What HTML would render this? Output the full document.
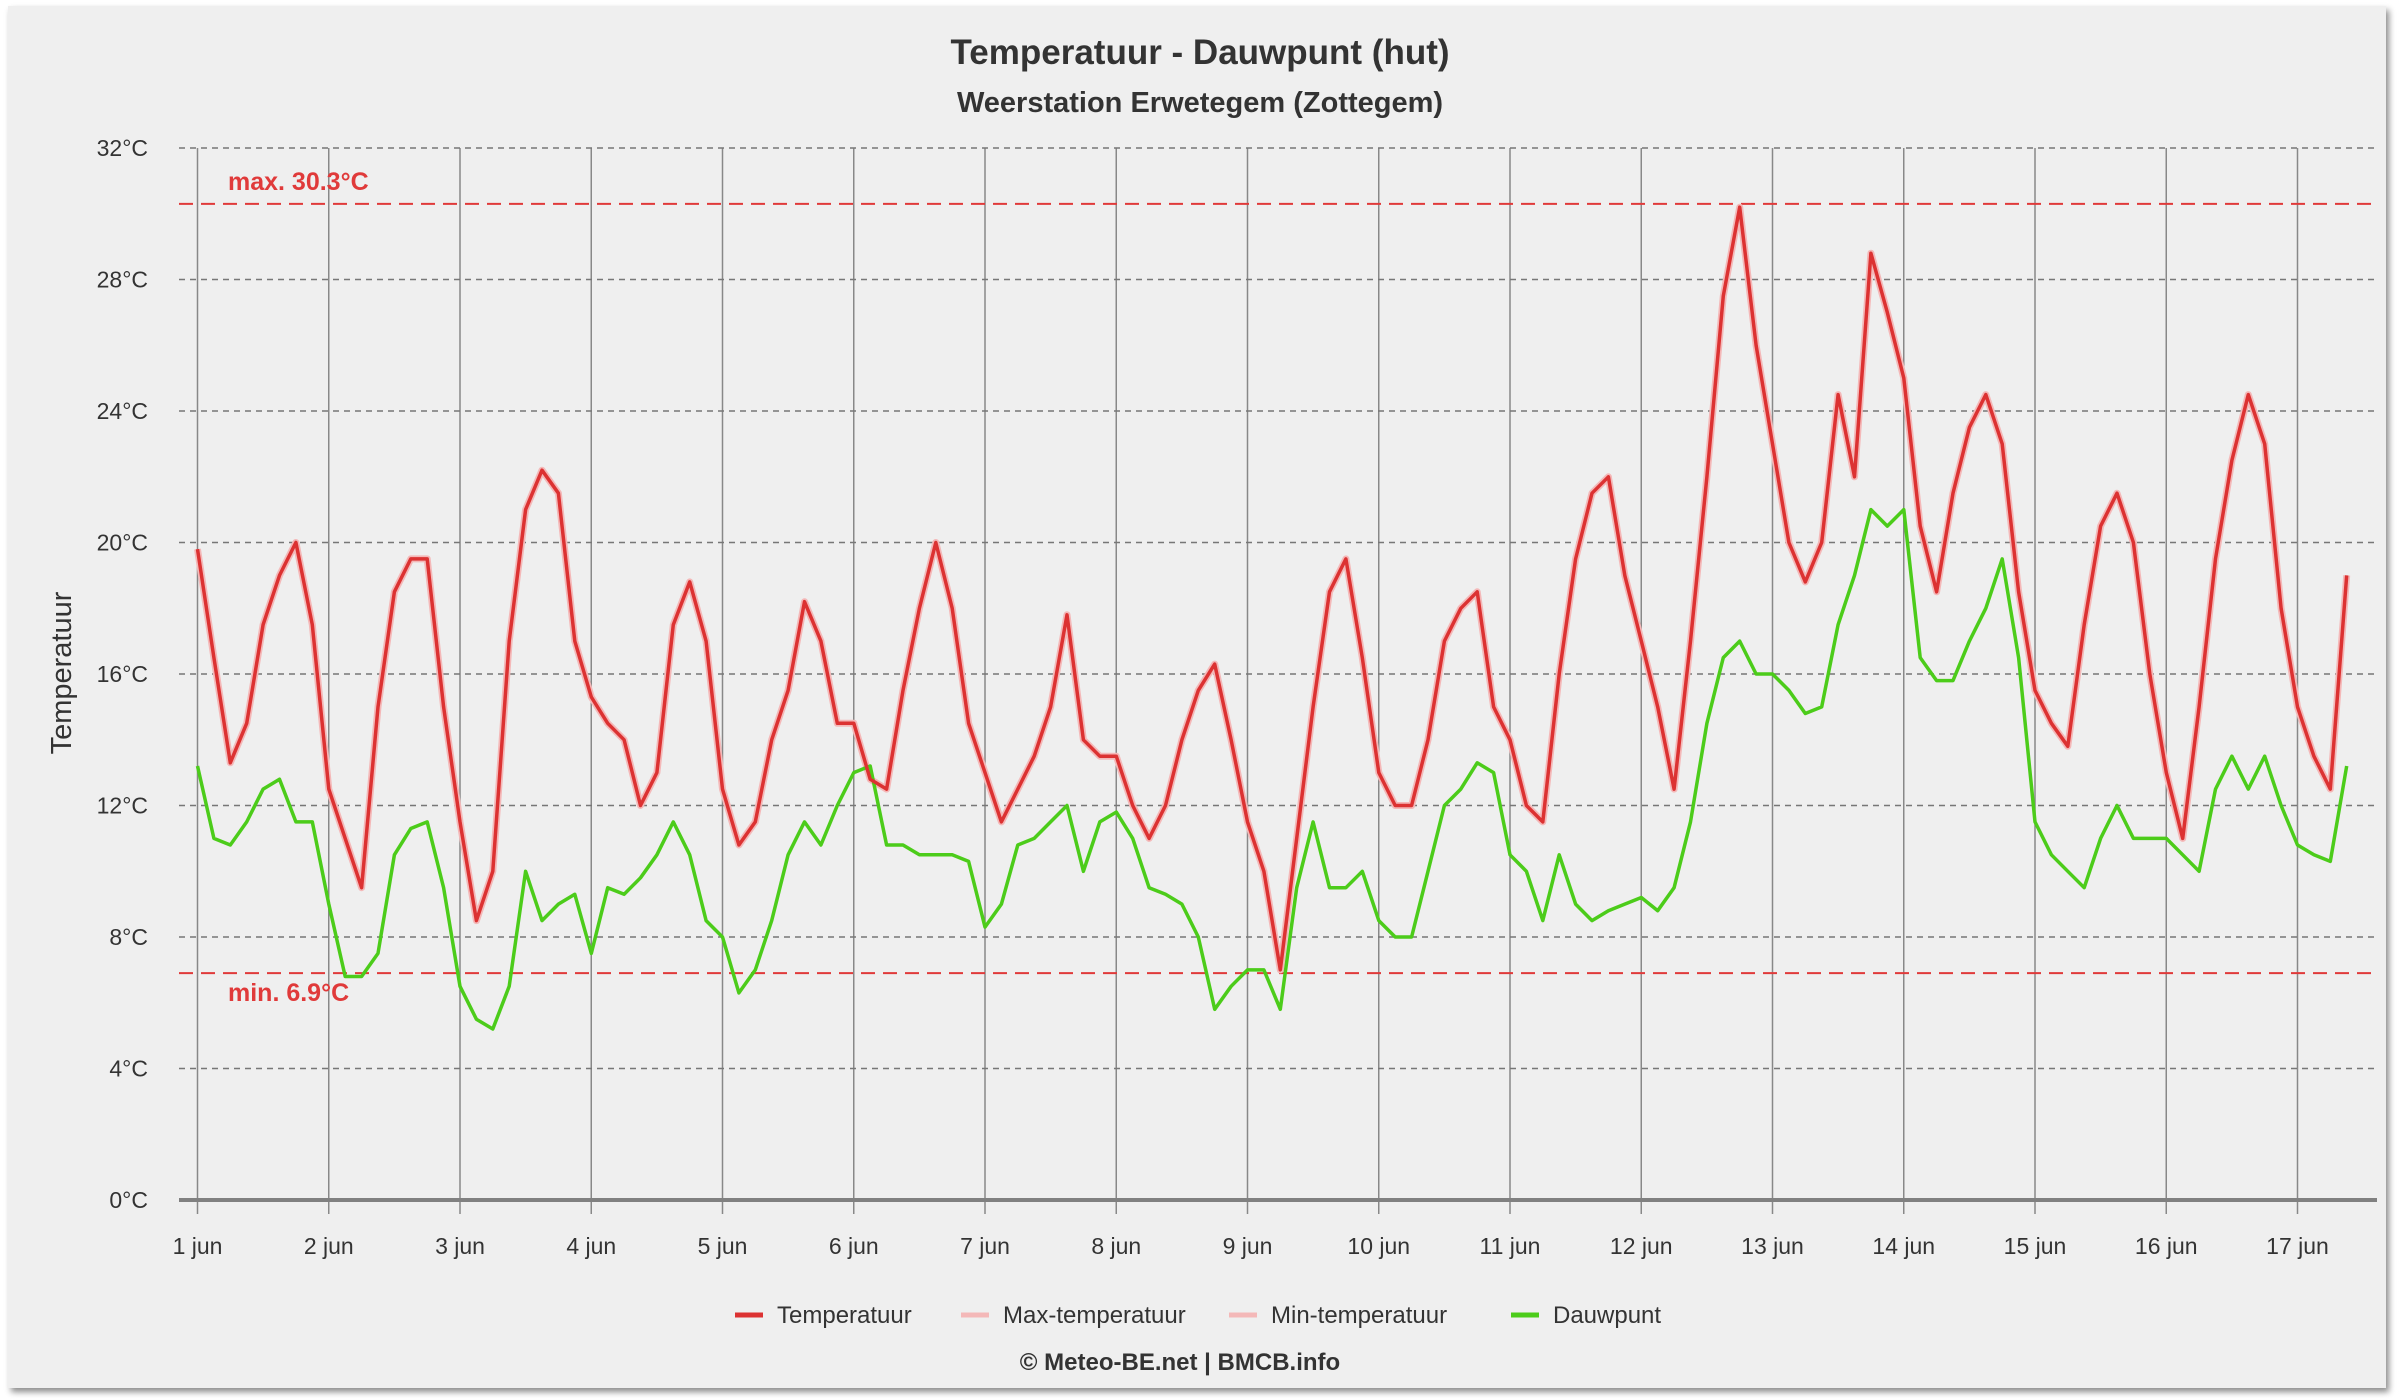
<!DOCTYPE html>
<html><head><meta charset="utf-8"><style>
html,body{margin:0;padding:0;background:#fff;width:2400px;height:1400px;overflow:hidden}
#card{position:absolute;left:8px;top:6px;width:2378px;height:1382px;background:#efefef;box-shadow:3px 4px 6px rgba(0,0,0,0.45)}
svg{position:absolute;left:0;top:0}
text{font-family:"Liberation Sans",sans-serif}
</style></head><body>
<div id="card"></div>
<svg id="chart" width="2400" height="1400"></svg>
<script>
const dayLabels=["1 jun","2 jun","3 jun","4 jun","5 jun","6 jun","7 jun","8 jun","9 jun","10 jun","11 jun","12 jun","13 jun","14 jun","15 jun","16 jun","17 jun"];
const yTicks=[0,4,8,12,16,20,24,28,32];
const maxTemp=30.3;
const minTemp=6.9;
const stepDays=0.125;
const temperature=[
19.8,16.5,13.3,14.5,17.5,19.0,20.0,17.5,
12.5,11.0,9.5,15,18.5,19.5,19.5,15,
11.5,8.5,10,17,21,22.2,21.5,17,
15.3,14.5,14.0,12.0,13.0,17.5,18.8,17,
12.5,10.8,11.5,14,15.5,18.2,17,14.5,
14.5,12.8,12.5,15.5,18,20,18,14.5,
13,11.5,12.5,13.5,15,17.8,14,13.5,
13.5,12,11,12,14,15.5,16.3,14,
11.5,10,7,11,15,18.5,19.5,16.5,
13,12,12,14,17,18,18.5,15,
14,12,11.5,16,19.5,21.5,22,19,
17,15,12.5,17,22,27.5,30.2,26,
23,20,18.8,20,24.5,22,28.8,27,
25,20.5,18.5,21.5,23.5,24.5,23,18.5,
15.5,14.5,13.8,17.5,20.5,21.5,20,16,
13,11,15,19.5,22.5,24.5,23,18,
15,13.5,12.5,19];
const dewpoint=[
13.2,11.0,10.8,11.5,12.5,12.8,11.5,11.5,
9.0,6.8,6.8,7.5,10.5,11.3,11.5,9.5,
6.5,5.5,5.2,6.5,10.0,8.5,9.0,9.3,
7.5,9.5,9.3,9.8,10.5,11.5,10.5,8.5,
8.0,6.3,7.0,8.5,10.5,11.5,10.8,12.0,
13.0,13.2,10.8,10.8,10.5,10.5,10.5,10.3,
8.3,9.0,10.8,11.0,11.5,12.0,10.0,11.5,
11.8,11.0,9.5,9.3,9.0,8.0,5.8,6.5,
7.0,7.0,5.8,9.5,11.5,9.5,9.5,10.0,
8.5,8.0,8.0,10.0,12.0,12.5,13.3,13.0,
10.5,10.0,8.5,10.5,9.0,8.5,8.8,9.0,
9.2,8.8,9.5,11.5,14.5,16.5,17.0,16.0,
16.0,15.5,14.8,15.0,17.5,19.0,21.0,20.5,
21.0,16.5,15.8,15.8,17.0,18.0,19.5,16.5,
11.5,10.5,10.0,9.5,11.0,12.0,11.0,11.0,
11.0,10.5,10.0,12.5,13.5,12.5,13.5,12.0,
10.8,10.5,10.3,13.2];

const NS="http://www.w3.org/2000/svg";
const svg=document.getElementById('chart');
const X0=197.5, DAYW=131.25, PL=179, PR=2377;
const Y0=1200, YT=148, VMAX=32;
const xs=d=>X0+d*DAYW;
const ys=v=>Y0-(v/VMAX)*(Y0-YT);
function el(tag,attrs,parent){const e=document.createElementNS(NS,tag);for(const k in attrs)e.setAttribute(k,attrs[k]);(parent||svg).appendChild(e);return e;}
function txt(s,attrs){const t=el('text',attrs);t.textContent=s;return t;}

dayLabels.forEach((lab,i)=>{
  const l=el('line',{x1:xs(i),x2:xs(i),y1:YT,y2:Y0+14,stroke:'#888','stroke-width':1.5});
  
  
  const t=txt(lab,{x:xs(i),y:1254,'text-anchor':'middle','font-size':23,fill:'#333'});
  
  
});
yTicks.forEach(v=>{
  if(v>0){
    const l=el('line',{x1:PL,x2:PR,y1:ys(v),y2:ys(v),stroke:'#777','stroke-width':1.5,'stroke-dasharray':'6,5'});
    
    
  }
  const t=txt(v+'°C',{x:148,y:ys(v)+8,'text-anchor':'end','font-size':23,fill:'#333'});
  
  
});
const ax=el('line',{x1:PL,x2:PR,y1:Y0,y2:Y0,stroke:'#808080','stroke-width':4});



[[maxTemp,'max. '],[minTemp,'min. ']].forEach(([v,p],i)=>{
  const l=el('line',{x1:PL,x2:PR,y1:ys(v),y2:ys(v),stroke:'#e03a3a','stroke-width':2,'stroke-dasharray':'14,8'});
  
  
  const t=txt(p+v.toFixed(1)+'°C',{x:228,y:i?ys(v)+28:ys(v)-14,'font-size':25,'font-weight':'bold',fill:'#e03a3a'});
  
  
});

function pathOf(arr){return arr.map((v,i)=>(i?'L':'M')+xs(i*stepDays).toFixed(1)+','+ys(v).toFixed(1)).join(' ');}
const band=el('path',{d:pathOf(temperature),fill:'none',stroke:'#f4b8b8','stroke-width':7,'stroke-linejoin':'round'});


const dew=el('path',{d:pathOf(dewpoint),fill:'none',stroke:'#4ccc1a','stroke-width':3.5,'stroke-linejoin':'round'});


const tl=el('path',{d:pathOf(temperature),fill:'none',stroke:'#dc3232','stroke-width':3.5,'stroke-linejoin':'round'});



let t=txt('Temperatuur - Dauwpunt (hut)',{x:1200,y:64,'text-anchor':'middle','font-size':35,'font-weight':'bold',fill:'#333'});


t=txt('Weerstation Erwetegem (Zottegem)',{x:1200,y:112,'text-anchor':'middle','font-size':29,'font-weight':'bold',fill:'#333'});


t=txt('Temperatuur',{x:0,y:0,'text-anchor':'middle','font-size':29,fill:'#333',transform:'translate(71,673) rotate(-90)'});


t=txt('© Meteo-BE.net | BMCB.info',{x:1180,y:1370,'text-anchor':'middle','font-size':24,'font-weight':'bold',fill:'#333'});



const legend=[['Temperatuur','#dc3232',735],['Max-temperatuur','#f4b8b8',961],['Min-temperatuur','#f4b8b8',1229],['Dauwpunt','#4ccc1a',1511]];
legend.forEach(([n,c,x])=>{
  const g=el('g',{});
  
  
  el('line',{x1:x,x2:x+28,y1:1315,y2:1315,stroke:c,'stroke-width':5},g);
  const tt=el('text',{x:x+42,y:1323,'font-size':24,fill:'#333'},g);tt.textContent=n;
});
</script>
</body></html>
